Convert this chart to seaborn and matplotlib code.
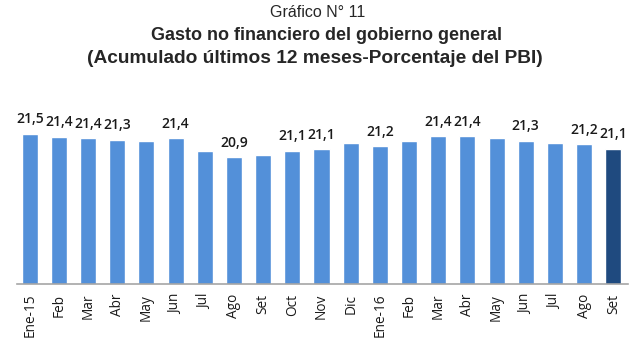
import matplotlib
matplotlib.use("Agg")
import matplotlib.pyplot as plt
import seaborn as sns
import pandas as pd

# --- Data ---
meses = ["Ene-15", "Feb", "Mar", "Abr", "May", "Jun", "Jul", "Ago", "Set", "Oct", "Nov", "Dic",
         "Ene-16", "Feb", "Mar", "Abr", "May", "Jun", "Jul", "Ago", "Set"]
gasto = [21.5, 21.42, 21.38, 21.34, 21.31, 21.38, 21.06, 20.9, 20.97, 21.06, 21.1, 21.27,
         21.18, 21.31, 21.43, 21.43, 21.4, 21.31, 21.27, 21.23, 21.11]
# bars that carry a value label in the original
etiquetado = [True, True, True, True, False, True, False, True, False, True, True, False,
              True, False, True, True, False, True, False, True, True]

COLOR_BAR = "#5390D9"
COLOR_LAST = "#1F4A7F"

sns.set_style("white")
plt.rcParams["font.family"] = ["Liberation Sans", "DejaVu Sans"]

df = pd.DataFrame({
    "pos": range(len(meses)),
    "gasto": gasto,
    "grupo": ["hist"] * (len(meses) - 1) + ["ultimo"],
})

fig = plt.figure(figsize=(6.4, 3.57), dpi=100)
ax = fig.add_axes([0.026, 0.2045, 0.955, 0.53])

sns.barplot(data=df, x="pos", y="gasto", hue="grupo", dodge=False,
            palette={"hist": COLOR_BAR, "ultimo": COLOR_LAST}, saturation=1,
            width=0.55, legend=False, ax=ax)

ax.set_ylim(17.7, 22.48)
ax.set_xlim(-0.45, len(meses) - 0.5)
ax.set_xticks(range(len(meses)))
ax.set_xticklabels(meses, rotation=90, fontsize=9.8, family="Open Sans", color="#1a1a1a")
ax.tick_params(axis="x", length=0, pad=7)
ax.set_yticks([])
ax.set_xlabel("")
ax.set_ylabel("")
for side in ["top", "left", "right"]:
    ax.spines[side].set_visible(False)
ax.spines["bottom"].set_color("#A6A6A6")
ax.spines["bottom"].set_linewidth(1.2)

# value labels
for i, (v, lab) in enumerate(zip(gasto, etiquetado)):
    if lab:
        ax.annotate(f"{v:.1f}".replace(".", ","), xy=(i, v), xytext=(0, 5.5),
                    textcoords="offset points", ha="center", va="bottom",
                    fontsize=10, family="Open Sans", fontweight="semibold", color="#1a1a1a")

fig.text(0.496, 0.965, "Gráfico N° 11", ha="center", va="center", fontsize=11.5)
fig.text(0.51, 0.9, "Gasto no financiero del gobierno general", ha="center", va="center",
         fontsize=13, fontweight="bold")
fig.text(0.492, 0.835, "(Acumulado últimos 12 meses-Porcentaje del PBI)", ha="center", va="center",
         fontsize=13.8, fontweight="bold")

fig.savefig("out.png", dpi=100)
